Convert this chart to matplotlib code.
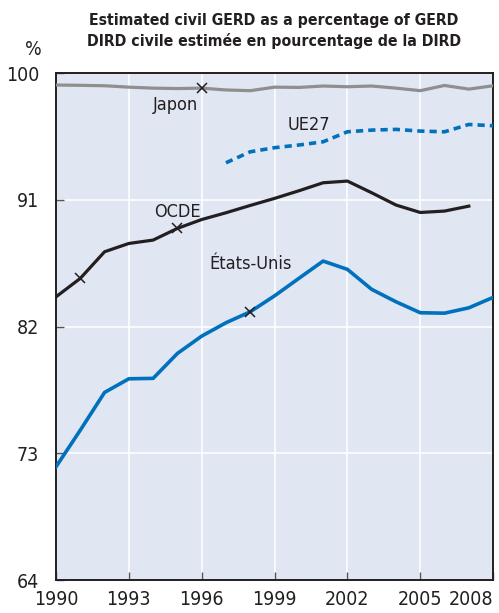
import numpy as np
import matplotlib.pyplot as plt

plt.rcParams['font.family'] = ['DejaVu Sans']
plt.rcParams['font.stretch'] = 'condensed'

years = np.arange(1990, 2009)
japon = [99.15, 99.13, 99.1, 99.0, 98.93, 98.9, 98.93, 98.8, 98.75, 99.0,
         98.98, 99.08, 99.03, 99.08, 98.93, 98.75, 99.12, 98.86, 99.1]
ue27_years = np.arange(1997, 2009)
ue27 = [93.63, 94.41, 94.7, 94.89, 95.12, 95.83, 95.95, 96.0, 95.88, 95.83, 96.35, 96.26]
ocde_years = np.arange(1990, 2008)
ocde = [84.11, 85.42, 87.31, 87.9, 88.14, 88.97, 89.6, 90.08, 90.6, 91.1,
        91.64, 92.21, 92.33, 91.5, 90.63, 90.1, 90.2, 90.55]
usa = [72.04, 74.64, 77.32, 78.29, 78.32, 80.09, 81.32, 82.27, 83.05, 84.18,
       85.42, 86.65, 86.06, 84.64, 83.76, 82.98, 82.95, 83.33, 84.07]

xticks = [1990, 1993, 1996, 1999, 2002, 2005, 2008]
yticks = [64, 73, 82, 91, 100]

blue = '#0071bc'
tc = '#231f20'
fig = plt.figure(figsize=(4.99, 6.13), dpi=100)
ax = fig.add_axes([0.1122, 0.0538, 0.876, 0.827])
ax.set_facecolor('#e1e6f3')

ax.plot(years, japon, color='#8f8f8f', lw=2.3, zorder=3)
ax.plot(ue27_years, ue27, color=blue, lw=2.6, ls=(0, (2, 1.4)), zorder=3)
ax.plot(ocde_years, ocde, color=tc, lw=2.3, zorder=3)
ax.plot(years, usa, color=blue, lw=2.6, zorder=3)

# label markers
ax.plot([1996], [japon[6]], 'x', color=tc, ms=7.5, mew=1.1, zorder=4)
ax.plot([1991, 1995], [ocde[1], ocde[5]], 'x', color=tc, ms=7.5, mew=1.1, zorder=4)
ax.plot([1998], [usa[8]], 'x', color=tc, ms=7.5, mew=1.1, zorder=4)

ax.text(1994.9, 97.7, 'Japon', fontsize=13, color=tc, ha='center', va='center')
ax.text(2000.43, 96.3, 'UE27', fontsize=13, color=tc, ha='center', va='center')
ax.text(1995.0, 90.15, 'OCDE', fontsize=13, color=tc, ha='center', va='center')
ax.text(1998.0, 86.43, 'États-Unis', fontsize=13, color=tc, ha='center', va='center')

ax.set_xlim(1990, 2008)
ax.set_ylim(64, 100)
ax.set_xticks(xticks)
ax.set_yticks(yticks)
ax.set_xticklabels([str(x) for x in xticks])
ax.grid(True, color='white', lw=1.1, zorder=1)
ax.set_axisbelow(True)
ax.tick_params(direction='in', length=6, width=1, color='#555555', labelsize=14,
               labelcolor=tc)
ax.tick_params(axis='x', pad=7)
ax.tick_params(axis='y', pad=12)
for lab in ax.get_xticklabels():
    if lab.get_text() == '2008':
        lab.set_ha('right')
for s in ax.spines.values():
    s.set_color(tc)
    s.set_linewidth(1.4)

fig.text(0.066, 0.92, '%', fontsize=14, color=tc, ha='center', va='center')
fig.text(0.549, 0.966, 'Estimated civil GERD as a percentage of GERD', fontsize=11.3,
         fontweight='bold', color=tc, ha='center', va='center')
fig.text(0.549, 0.933, 'DIRD civile estimée en pourcentage de la DIRD', fontsize=11.3,
         fontweight='bold', color=tc, ha='center', va='center')

fig.savefig('out.png', dpi=100)
